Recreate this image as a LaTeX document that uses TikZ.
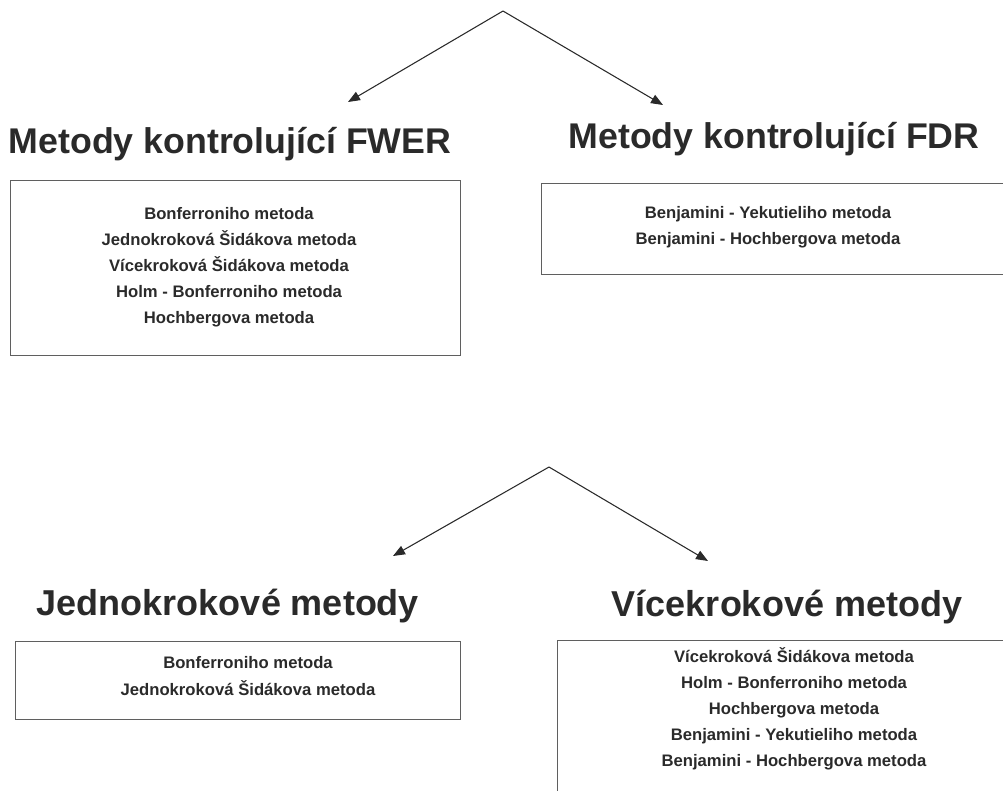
\documentclass[tikz,border=0pt]{standalone}
\usepackage{fontspec}
\setmainfont{Liberation Sans}
\usepackage{xcolor}
\definecolor{inkgray}{RGB}{42,42,42}
\definecolor{framegray}{RGB}{95,95,95}
\usetikzlibrary{arrows.meta, positioning}
\newlength{\px}
\setlength{\px}{0.75pt}

\begin{document}
\begin{tikzpicture}[
            x=0.75pt, y=-0.75pt,
            heading/.style={font=\fontsize{26.8}{32}\selectfont\bfseries, text=inkgray,
                inner sep=0pt, anchor=base},
            subheading/.style={heading, font=\fontsize{27}{32}\selectfont\bfseries},
            frame/.style={draw=framegray, line width=0.9pt, anchor=north west,
                inner sep=0pt},
            list/.style={font=\fontsize{12.5}{19.6}\selectfont\bfseries, text=inkgray,
                align=center, inner sep=0pt},
            arr/.style={-{Triangle[length=9pt, width=7pt]}, inkgray, line width=0.8pt}
          ]
          \useasboundingbox (0,0) rectangle (1003,790);
          \clip (0,0) rectangle (1003,790);

          % upper split: FWER / FDR
          \coordinate (top)  at (503,11);
          \coordinate (fwertip) at (348,102);
          \coordinate (fdrtip)  at (663,105);
          \draw[arr] (top) -- (fwertip);
          \draw[arr] (top) -- (fdrtip);

          \node[heading] (fwer) at (230,153) {Metody kontrolující FWER};
          \node[heading] (fdr)  at (774,148) {Metody kontrolující FDR};

          \node[frame, minimum width=450\px, minimum height=175\px] (fwerbox) at (10,180) {};
          \node[list] (fwerlist) at (229,267) {Bonferroniho metoda\\
              Jednokroková Šidákova metoda\\ Vícekroková Šidákova metoda\\
              Holm - Bonferroniho metoda\\ Hochbergova metoda};

          \node[frame, minimum width=480\px, minimum height=91\px] (fdrbox) at (541,183) {};
          \node[list] (fdrlist) at (768,227) {Benjamini - Yekutieliho metoda\\
              Benjamini - Hochbergova metoda};

          % lower split: single-step / multi-step
          \coordinate (mid)  at (549,467);
          \coordinate (jednotip) at (393,556);
          \coordinate (vicetip)  at (708,561);
          \draw[arr] (mid) -- (jednotip);
          \draw[arr] (mid) -- (vicetip);

          \node[subheading] (jedno) at (228,615) {Jednokrokové metody};
          \node[subheading] (vice)  at (787,616) {Vícekrokové metody};

          \node[frame, minimum width=445\px, minimum height=78\px] (jednobox) at (15,641) {};
          \node[list] (jednolist) at (248,676) {Bonferroniho metoda\\
              Jednokroková Šidákova metoda};

          \node[frame, minimum width=470\px, minimum height=170\px] (vicebox) at (557,640) {};
          \node[list] (vicelist) at (794,709) {Vícekroková Šidákova metoda\\
              Holm - Bonferroniho metoda\\ Hochbergova metoda\\
              Benjamini - Yekutieliho metoda\\ Benjamini - Hochbergova metoda};
        \end{tikzpicture}
\end{document}
